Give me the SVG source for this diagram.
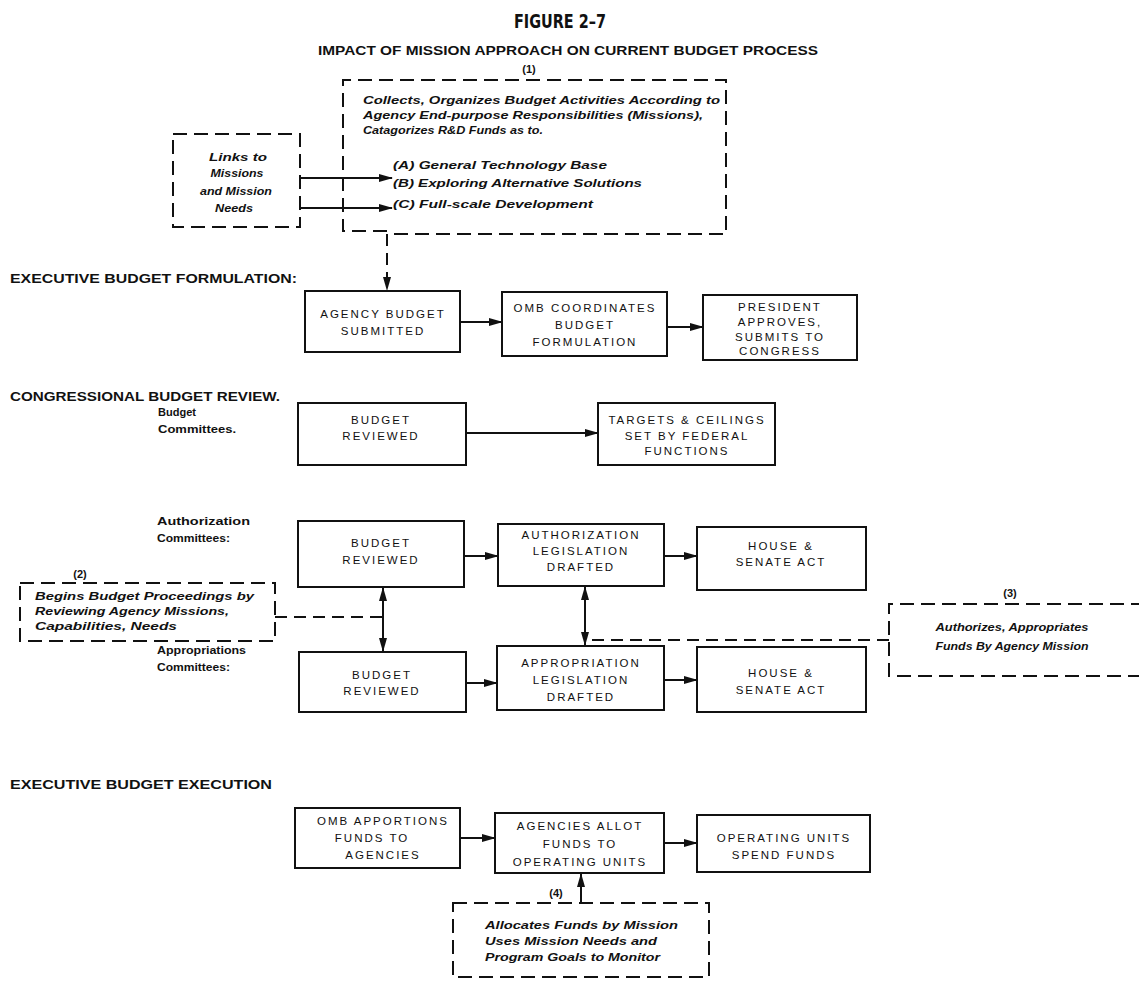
<svg xmlns="http://www.w3.org/2000/svg" width="1139" height="981" viewBox="0 0 1139 981">
<defs>
<style>
.bg{fill:#fff}
.box{fill:none;stroke:#111;stroke-width:2}
.dbox{fill:none;stroke:#111;stroke-width:2;stroke-dasharray:14 7}
.ln{fill:none;stroke:#111;stroke-width:2}
.dl{fill:none;stroke:#111;stroke-width:2;stroke-dasharray:12 7}
.t{font-family:"Liberation Sans",Arial,sans-serif;font-size:11.5px;letter-spacing:2px;fill:#111;text-anchor:middle}
.sec{font-family:"Liberation Sans",Arial,sans-serif;font-size:12.5px;font-weight:bold;fill:#111}
.sm{font-family:"Liberation Sans",Arial,sans-serif;font-size:10px;font-weight:bold;fill:#111}
.it{font-family:"Liberation Sans",Arial,sans-serif;font-size:11.5px;font-style:italic;font-weight:bold;fill:#111}
.its{font-family:"Liberation Sans",Arial,sans-serif;font-size:10px;font-style:italic;font-weight:bold;fill:#111}
.num{font-family:"Liberation Sans",Arial,sans-serif;font-size:11px;font-weight:bold;fill:#111;text-anchor:middle}
</style>
<marker id="ah" markerWidth="14" markerHeight="8" refX="13" refY="4" orient="auto-start-reverse" markerUnits="userSpaceOnUse"><path d="M0,0 L14,4 L0,8 z" fill="#111"/></marker>
</defs>
<rect class="bg" x="0" y="0" width="1139" height="981"/>

<g id="titles">
<text x="560" y="28" font-family="DejaVu Sans Condensed, DejaVu Sans, sans-serif" font-size="19" font-weight="bold" font-stretch="condensed" text-anchor="middle" textLength="92" lengthAdjust="spacingAndGlyphs" fill="#111">FIGURE 2–7</text>
<text x="318" y="55" class="sec" textLength="500" lengthAdjust="spacingAndGlyphs">IMPACT OF MISSION APPROACH ON CURRENT BUDGET PROCESS</text>
</g>

<g id="section-labels">
<text x="10" y="283" class="sec" textLength="287" lengthAdjust="spacingAndGlyphs">EXECUTIVE BUDGET FORMULATION:</text>
<text x="10" y="401" class="sec" textLength="270" lengthAdjust="spacingAndGlyphs">CONGRESSIONAL BUDGET REVIEW.</text>
<text x="158" y="416" class="sm" textLength="38" lengthAdjust="spacingAndGlyphs">Budget</text>
<text x="158" y="433" class="sm" textLength="78" lengthAdjust="spacingAndGlyphs">Committees.</text>
<text x="157" y="525" class="sm" textLength="93" lengthAdjust="spacingAndGlyphs">Authorization</text>
<text x="157" y="542" class="sm" textLength="73" lengthAdjust="spacingAndGlyphs">Committees:</text>
<text x="157" y="654" class="sm" textLength="89" lengthAdjust="spacingAndGlyphs">Appropriations</text>
<text x="157" y="671" class="sm" textLength="73" lengthAdjust="spacingAndGlyphs">Committees:</text>
<text x="10" y="789" class="sec" textLength="262" lengthAdjust="spacingAndGlyphs">EXECUTIVE BUDGET EXECUTION</text>
</g>

<g id="connectors">
<line class="ln" x1="300" y1="178" x2="392" y2="178" marker-end="url(#ah)"/>
<line class="ln" x1="300" y1="208" x2="392" y2="208" marker-end="url(#ah)"/>
<line class="dl" x1="387" y1="234" x2="387" y2="290" marker-end="url(#ah)"/>
<line class="ln" x1="460" y1="322" x2="502" y2="322" marker-end="url(#ah)"/>
<line class="ln" x1="667" y1="327" x2="703" y2="327" marker-end="url(#ah)"/>
<line class="ln" x1="466" y1="433" x2="598" y2="433" marker-end="url(#ah)"/>
<line class="ln" x1="464" y1="556" x2="498" y2="556" marker-end="url(#ah)"/>
<line class="ln" x1="664" y1="556" x2="697" y2="556" marker-end="url(#ah)"/>
<line class="ln" x1="383" y1="588" x2="383" y2="651" marker-start="url(#ah)" marker-end="url(#ah)"/>
<line class="dl" x1="275" y1="617" x2="383" y2="617"/>
<line class="ln" x1="585" y1="587" x2="585" y2="645" marker-start="url(#ah)" marker-end="url(#ah)"/>
<line class="dl" x1="889" y1="640" x2="585" y2="640"/>
<line class="ln" x1="466" y1="683" x2="497" y2="683" marker-end="url(#ah)"/>
<line class="ln" x1="664" y1="680" x2="697" y2="680" marker-end="url(#ah)"/>
<line class="ln" x1="460" y1="838" x2="495" y2="838" marker-end="url(#ah)"/>
<line class="ln" x1="664" y1="843" x2="697" y2="843" marker-end="url(#ah)"/>
<line class="ln" x1="581" y1="903" x2="581" y2="874" marker-end="url(#ah)"/>
</g>

<g id="note1">
<path class="dbox" d="M387,231 L343,231 L343,80 L726,80 L726,234 L387,234"/>
<text x="529" y="73" class="num">(1)</text>
<text x="363" y="104" class="it" textLength="357" lengthAdjust="spacingAndGlyphs">Collects, Organizes Budget Activities According to</text>
<text x="363" y="119" class="it" textLength="340" lengthAdjust="spacingAndGlyphs">Agency End-purpose Responsibilities (Missions),</text>
<text x="363" y="134" class="it" textLength="180" lengthAdjust="spacingAndGlyphs">Catagorizes R&amp;D Funds as to.</text>
<text x="393" y="169" class="it" textLength="214" lengthAdjust="spacingAndGlyphs">(A) General Technology Base</text>
<text x="393" y="187" class="it" textLength="249" lengthAdjust="spacingAndGlyphs">(B) Exploring Alternative Solutions</text>
<text x="393" y="208" class="it" textLength="200" lengthAdjust="spacingAndGlyphs">(C) Full-scale Development</text>
</g>

<g id="links">
<rect class="dbox" x="173" y="134" width="127" height="93"/>
<text x="238" y="161" class="its" text-anchor="middle" textLength="58" lengthAdjust="spacingAndGlyphs">Links to</text>
<text x="237" y="177" class="its" text-anchor="middle" textLength="53" lengthAdjust="spacingAndGlyphs">Missions</text>
<text x="236" y="195" class="its" text-anchor="middle" textLength="72" lengthAdjust="spacingAndGlyphs">and Mission</text>
<text x="234" y="212" class="its" text-anchor="middle" textLength="38" lengthAdjust="spacingAndGlyphs">Needs</text>
</g>

<g id="agency-budget">
<rect class="box" x="305" y="291" width="155" height="61"/>
<text x="383" y="318" class="t">AGENCY BUDGET</text>
<text x="383" y="335" class="t">SUBMITTED</text>
</g>
<g id="omb-coordinates">
<rect class="box" x="502" y="292" width="165" height="64"/>
<text x="585" y="312" class="t">OMB COORDINATES</text>
<text x="585" y="329" class="t">BUDGET</text>
<text x="585" y="346" class="t">FORMULATION</text>
</g>
<g id="president">
<rect class="box" x="703" y="295" width="154" height="65"/>
<text x="780" y="311" class="t">PRESIDENT</text>
<text x="780" y="326" class="t">APPROVES,</text>
<text x="780" y="341" class="t">SUBMITS TO</text>
<text x="780" y="355" class="t">CONGRESS</text>
</g>

<g id="budget-reviewed-1">
<rect class="box" x="298" y="403" width="168" height="62"/>
<text x="381" y="424" class="t">BUDGET</text>
<text x="381" y="440" class="t">REVIEWED</text>
</g>
<g id="targets">
<rect class="box" x="598" y="403" width="177" height="62"/>
<text x="687" y="424" class="t">TARGETS &amp; CEILINGS</text>
<text x="687" y="440" class="t">SET BY FEDERAL</text>
<text x="687" y="455" class="t">FUNCTIONS</text>
</g>

<g id="budget-reviewed-2">
<rect class="box" x="298" y="521" width="166" height="66"/>
<text x="381" y="547" class="t">BUDGET</text>
<text x="381" y="564" class="t">REVIEWED</text>
</g>
<g id="authorization">
<rect class="box" x="498" y="524" width="166" height="62"/>
<text x="581" y="539" class="t">AUTHORIZATION</text>
<text x="581" y="555" class="t">LEGISLATION</text>
<text x="581" y="571" class="t">DRAFTED</text>
</g>
<g id="house-senate-1">
<rect class="box" x="697" y="527" width="169" height="63"/>
<text x="781" y="550" class="t">HOUSE &amp;</text>
<text x="781" y="566" class="t">SENATE ACT</text>
</g>

<g id="note2">
<rect class="dbox" x="20" y="583" width="255" height="58"/>
<text x="80" y="578" class="num">(2)</text>
<text x="35" y="600" class="it" textLength="219" lengthAdjust="spacingAndGlyphs">Begins Budget Proceedings by</text>
<text x="35" y="615" class="it" textLength="194" lengthAdjust="spacingAndGlyphs">Reviewing Agency Missions,</text>
<text x="35" y="630" class="it" textLength="142" lengthAdjust="spacingAndGlyphs">Capabilities, Needs</text>
</g>

<g id="note3">
<path class="dbox" d="M1145,604 L889,604 L889,676 L1145,676"/>
<text x="1010" y="597" class="num">(3)</text>
<text x="1012" y="631" class="its" text-anchor="middle" textLength="153" lengthAdjust="spacingAndGlyphs">Authorizes, Appropriates</text>
<text x="1012" y="650" class="its" text-anchor="middle" textLength="153" lengthAdjust="spacingAndGlyphs">Funds By Agency Mission</text>
</g>

<g id="budget-reviewed-3">
<rect class="box" x="299" y="652" width="167" height="60"/>
<text x="382" y="679" class="t">BUDGET</text>
<text x="382" y="695" class="t">REVIEWED</text>
</g>
<g id="appropriation">
<rect class="box" x="497" y="646" width="167" height="64"/>
<text x="581" y="667" class="t">APPROPRIATION</text>
<text x="581" y="684" class="t">LEGISLATION</text>
<text x="581" y="701" class="t">DRAFTED</text>
</g>
<g id="house-senate-2">
<rect class="box" x="697" y="647" width="169" height="65"/>
<text x="781" y="677" class="t">HOUSE &amp;</text>
<text x="781" y="694" class="t">SENATE ACT</text>
</g>

<g id="omb-apportions">
<rect class="box" x="295" y="808" width="165" height="60"/>
<text x="383" y="825" class="t">OMB APPORTIONS</text>
<text x="372" y="842" class="t">FUNDS TO</text>
<text x="383" y="859" class="t">AGENCIES</text>
</g>
<g id="agencies-allot">
<rect class="box" x="495" y="813" width="169" height="60"/>
<text x="580" y="830" class="t">AGENCIES ALLOT</text>
<text x="580" y="848" class="t">FUNDS TO</text>
<text x="580" y="866" class="t">OPERATING UNITS</text>
</g>
<g id="operating-units">
<rect class="box" x="697" y="815" width="173" height="57"/>
<text x="784" y="842" class="t">OPERATING UNITS</text>
<text x="784" y="859" class="t">SPEND FUNDS</text>
</g>

<g id="note4">
<rect class="dbox" x="453" y="903" width="256" height="74"/>
<text x="556" y="897" class="num">(4)</text>
<text x="485" y="929" class="it" textLength="193" lengthAdjust="spacingAndGlyphs">Allocates Funds by Mission</text>
<text x="485" y="945" class="it" textLength="172" lengthAdjust="spacingAndGlyphs">Uses Mission Needs and</text>
<text x="485" y="961" class="it" textLength="175" lengthAdjust="spacingAndGlyphs">Program Goals to Monitor</text>
</g>
</svg>
